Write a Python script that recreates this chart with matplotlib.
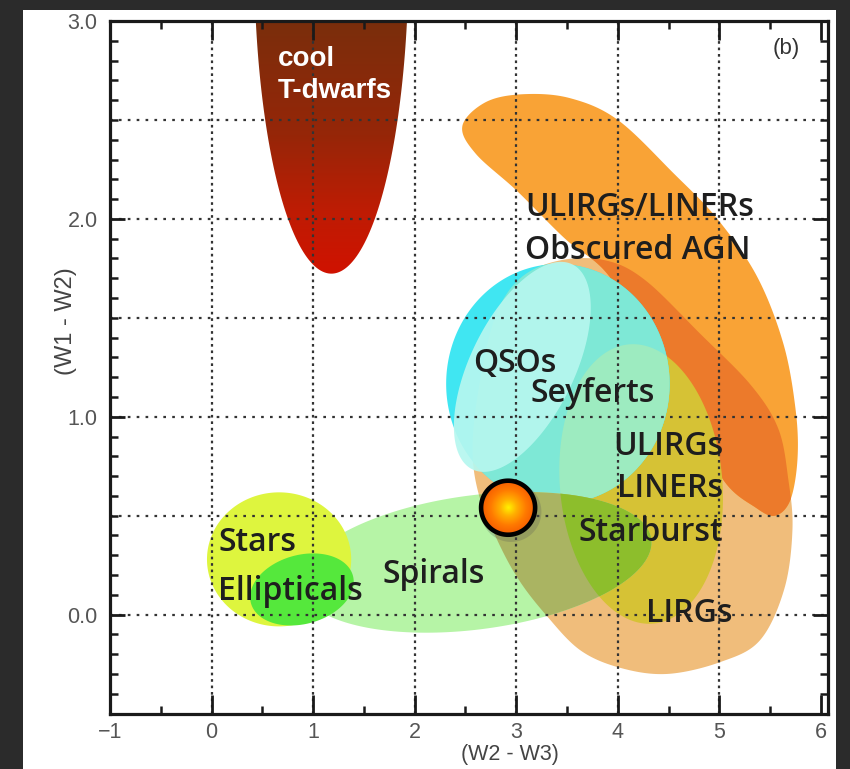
import numpy as np
import matplotlib.pyplot as plt
from matplotlib.colors import LinearSegmentedColormap
from matplotlib.patches import Polygon, Rectangle
from matplotlib.ticker import FixedLocator, MultipleLocator

plt.rcParams["font.family"] = ["Liberation Sans", "DejaVu Sans"]

# WISE colour-colour plane: x = W2 - W3, y = W1 - W2

# outlines of the two irregular regions
agn_w23 = [2.47, 2.70, 3.07, 3.53, 4.00, 4.55, 4.98, 5.37, 5.63, 5.75, 5.77,
           5.70, 5.55, 5.36, 5.04, 4.71, 4.32, 3.90, 3.48, 3.01, 2.60]
agn_w12 = [2.47, 2.59, 2.63, 2.61, 2.50, 2.23, 2.00, 1.71, 1.37, 1.04, 0.79,
           0.58, 0.50, 0.54, 0.68, 1.02, 1.37, 1.72, 1.90, 2.14, 2.33]

lirg_w23 = [3.43, 3.88, 4.27, 4.81, 5.31, 5.58, 5.68, 5.72, 5.64, 5.40, 5.01,
            4.49, 4.03, 3.63, 3.29, 3.02, 2.81, 2.63, 2.57, 2.63, 2.79, 3.04]
lirg_w12 = [1.79, 1.79, 1.69, 1.42, 1.16, 0.94, 0.68, 0.43, 0.13, -0.13, -0.24,
            -0.30, -0.27, -0.18, 0.00, 0.18, 0.38, 0.61, 0.84, 1.14, 1.50, 1.70]

# elliptical regions: centre, semi-axes (in W2-W3 units, screen-isotropic), tilt
ell_names = ["Spirals", "Stars", "Ellipticals", "Starburst", "QSOs", "Seyferts"]
ell_cx = [2.60, 0.665, 0.89, 4.23, 3.41, 3.06]
ell_cy = [0.264, 0.279, 0.127, 0.66, 1.166, 1.252]
ell_a = [1.744, 0.71, 0.52, 1.38, 1.10, 1.123]
ell_b = [0.66, 0.66, 0.34, 0.80, 1.18, 0.512]
ell_tilt = [7.5, 0, 15, 95, 0, 64]

# cool T-dwarf locus (half ellipse cut by the top of the plot)
dwarf_cx, dwarf_cy = 1.18, 3.323
dwarf_hw, dwarf_hh = 0.76, 1.60

# the source
obj_w23, obj_w12 = 2.92, 0.54
obj_radius = 0.266

region_labels = ["ULIRGs/LINERs", "Obscured AGN", "QSOs", "Seyferts", "ULIRGs",
                 "LINERs", "Starburst", "LIRGs", "Spirals", "Stars", "Ellipticals"]
label_x = [3.089, 3.089, 2.576, 3.138, 5.039, 5.039, 5.039, 5.128, 1.680, 0.064, 0.064]
label_y = [2.012, 1.799, 1.227, 1.075, 0.806, 0.593, 0.370, -0.04, 0.162, 0.319, 0.076]
label_ha = ["left", "left", "left", "left", "right", "right", "right", "right",
            "left", "left", "left"]

tick_x = [-1, 0, 1, 2, 3, 4, 5, 6]
tick_y = [0.0, 1.0, 2.0, 3.0]
grid_x = [0, 1, 2, 3, 4, 5]
grid_y = [0.0, 0.5, 1.0, 1.5, 2.0, 2.5]

W, H = 850, 769
fig = plt.figure(figsize=(W / 100, H / 100), dpi=100, facecolor="#2b2b2b")
fig.add_artist(Rectangle((23 / W, 0), (836 - 23) / W, (H - 10) / H,
                         transform=fig.transFigure, facecolor="white",
                         edgecolor="none", zorder=-1))
ax = fig.add_axes([110 / W, 1 - 713.5 / H, 718 / W, 692.5 / H])
xlim, ylim = (-1, 6.07), (-0.5, 3.0)

# y stretch needed to make shapes round on screen
pos = ax.get_position()
k = (pos.height * H / (ylim[1] - ylim[0])) / (pos.width * W / (xlim[1] - xlim[0]))


def smooth_closed(xs, ys, n=20):
    p = np.column_stack([xs, ys])
    t = np.linspace(0, 1, n, endpoint=False)[:, None]
    segs = []
    m = len(p)
    for i in range(m):
        p0, p1, p2, p3 = p[i - 1], p[i], p[(i + 1) % m], p[(i + 2) % m]
        segs.append(0.5 * (2 * p1 + (p2 - p0) * t
                           + (2 * p0 - 5 * p1 + 4 * p2 - p3) * t ** 2
                           + (3 * p1 - p0 - 3 * p2 + p3) * t ** 3))
    return np.vstack(segs)


def ellipse_xy(cx, cy, a, b, tilt, n=240):
    t = np.linspace(0, 2 * np.pi, n)
    u, v = a * np.cos(t), b * np.sin(t)
    th = np.radians(tilt)
    dx = u * np.cos(th) - v * np.sin(th)
    dy = u * np.sin(th) + v * np.cos(th)
    return np.column_stack([cx + dx, cy + dy / k])


def region(xy, color, z, alpha=1.0, clip=None):
    patch = Polygon(xy, closed=True, facecolor=color, edgecolor="none",
                    alpha=alpha, zorder=z)
    ax.add_patch(patch)
    if clip is not None:
        patch.set_clip_path(clip)
    return patch


ell = {name: ellipse_xy(ell_cx[i], ell_cy[i], ell_a[i], ell_b[i], ell_tilt[i])
       for i, name in enumerate(ell_names)}
agn_xy = smooth_closed(agn_w23, agn_w12)
lirg_xy = smooth_closed(lirg_w23, lirg_w12)

lirg = region(lirg_xy, "#F0BD7B", 1.0)
region(agn_xy, "#F9A336", 1.1)
region(agn_xy, "#EC7A2B", 1.2, clip=lirg)
sb = region(ell["Starburst"], "#D6C235", 1.3)
region(ell["QSOs"], "#40E6F2", 1.4)
region(ell["QSOs"], "#7EE8D6", 1.5, clip=lirg)
region(ell["QSOs"], "#9DEBC0", 1.6, clip=sb)
region(ell["Seyferts"], "#B6F7EF", 1.7, alpha=0.92)
region(ell["Spirals"], "#B6F4A6", 1.8)
region(ell["Spirals"], "#AAB462", 1.85, clip=lirg)
region(ell["Spirals"], "#8DBE2C", 1.9, clip=sb)
region(ell["Stars"], "#DEF53E", 1.95)
region(ell["Ellipticals"], "#55E83C", 2.0)

# T-dwarfs with a vertical colour ramp
t = np.linspace(0, 2 * np.pi, 240)
dwarf_patch = Polygon(np.column_stack([dwarf_cx + dwarf_hw * np.cos(t),
                                       dwarf_cy + dwarf_hh * np.sin(t)]),
                      closed=True, facecolor="none", edgecolor="none")
ax.add_patch(dwarf_patch)
dwarf_cmap = LinearSegmentedColormap.from_list(
    "dwarf", [(0, "#D01200"), (0.25, "#BE1C04"), (0.55, "#962608"), (1, "#7A2E0C")])
im = ax.imshow(np.linspace(0, 1, 256)[:, None], cmap=dwarf_cmap, origin="lower",
               extent=[dwarf_cx - dwarf_hw, dwarf_cx + dwarf_hw,
                       dwarf_cy - dwarf_hh, ylim[1]],
               aspect="auto", interpolation="bilinear", zorder=1.5)
im.set_clip_path(dwarf_patch)

# dotted grid
for gx in grid_x:
    ax.axvline(gx, color="#333333", lw=1.6, ls=(0, (1.2, 1.7)), zorder=2.2)
for gy in grid_y:
    ax.axhline(gy, color="#333333", lw=1.6, ls=(0, (1.2, 2.8)), zorder=2.2)

for txt, lx, ly, ha in zip(region_labels, label_x, label_y, label_ha):
    ax.text(lx, ly, txt, ha=ha, va="baseline", fontsize=23, color="#1e1e1e",
            family="Open Sans", fontweight="semibold", zorder=3)
ax.text(0.655, 2.772, "cool", ha="left", va="baseline", fontsize=20,
        color="white", fontweight="bold", zorder=3)
ax.text(0.655, 2.610, "T-dwarfs", ha="left", va="baseline", fontsize=20,
        color="white", fontweight="bold", zorder=3)
ax.text(5.66, 2.859, "(b)", ha="center", va="center", fontsize=16,
        color="#333333", zorder=3)

# the source: shaded disc with a black rim
shadow = ellipse_xy(obj_w23 + 0.03, obj_w12 - 0.02, obj_radius * 1.12,
                    obj_radius * 1.12, 0)
region(shadow, "#555555", 3.5, alpha=0.25)
disc = Polygon(ellipse_xy(obj_w23, obj_w12, obj_radius, obj_radius, 0),
               closed=True, facecolor="none", edgecolor="black", lw=3.3, zorder=4.2)
ax.add_patch(disc)
gx_, gy_ = np.meshgrid(np.linspace(-1, 1, 200), np.linspace(-1, 1, 200))
rr = np.hypot(gx_, gy_)
disc_cmap = LinearSegmentedColormap.from_list(
    "disc", [(0, "#FFF200"), (0.3, "#FFB000"), (0.65, "#FF7A00"), (1, "#F55A00")])
im2 = ax.imshow(rr, cmap=disc_cmap, vmin=0, vmax=1, origin="lower",
                extent=[obj_w23 - obj_radius, obj_w23 + obj_radius,
                        obj_w12 - obj_radius / k, obj_w12 + obj_radius / k],
                aspect="auto", interpolation="bilinear", zorder=4)
im2.set_clip_path(disc)

ax.set_xlim(*xlim)
ax.set_ylim(*ylim)
ax.set_axisbelow(False)

ax.xaxis.set_major_locator(FixedLocator(tick_x))
ax.xaxis.set_minor_locator(MultipleLocator(0.5))
ax.yaxis.set_major_locator(FixedLocator(tick_y))
ax.yaxis.set_minor_locator(MultipleLocator(0.1))
ax.set_yticklabels([f"{v:.1f}" for v in tick_y])
ax.tick_params(which="both", direction="in", top=True, right=True,
               color="#1a1a1a", labelsize=15.5, labelcolor="#555555")
ax.tick_params(axis="x", which="major", length=14, width=2.0, pad=6)
ax.tick_params(axis="y", which="major", length=11, width=2.0, pad=9)
ax.tick_params(which="minor", length=6, width=1.8)
for sp in ax.spines.values():
    sp.set_linewidth(2.3)
    sp.set_color("#1a1a1a")

ax.set_xlabel("(W2 - W3)", fontsize=15.5, color="#444444")
ax.xaxis.set_label_coords(0.557, -0.0445)
ax.set_ylabel("(W1 - W2)", fontsize=17, color="#444444")
ax.yaxis.set_label_coords(-0.046, 0.567)

fig.savefig("out.png", dpi=100)
